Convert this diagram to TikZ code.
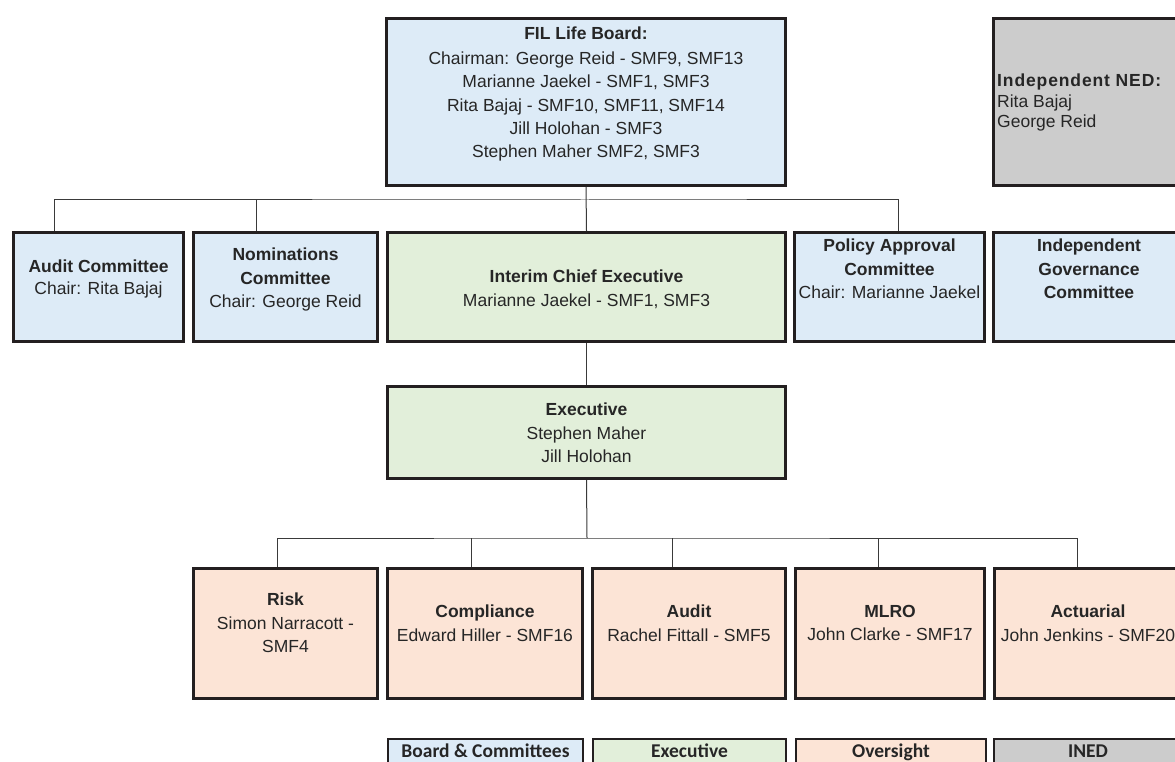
\documentclass[tikz,border=0pt]{standalone}
\usepackage{fontspec}
\setmainfont{Liberation Sans}
\newfontfamily\legendfont{Carlito}
\definecolor{ink}{HTML}{231F20}
\definecolor{txtc}{HTML}{262626}
\definecolor{lineC}{HTML}{3A3A3A}
\definecolor{boardC}{HTML}{DDEBF7}
\definecolor{execC}{HTML}{E2EFDA}
\definecolor{overC}{HTML}{FCE4D6}
\definecolor{inedC}{HTML}{CCCCCC}
\tikzset{
  box/.style={draw=ink, line width=3pt, inner sep=0pt},
  legbox/.style={draw=ink, line width=2pt, inner sep=0pt, minimum height=50},
  txt/.style={inner sep=0pt, align=center, anchor=north, text=txtc,
    font=\fontsize{17.5}{23.3}\selectfont},
  legtxt/.style={inner sep=0pt, anchor=base, text=txtc,
    font=\legendfont\bfseries\fontsize{19.5}{24}\selectfont},
  conn/.style={draw=lineC, line width=1pt},
}
\begin{document}
\begin{tikzpicture}[x=1pt, y=-1pt]
\clip (0,0) rectangle (1175,762);
\fill[white] (0,0) rectangle (1175,762);

% boxes
\node[box, fill=boardC, minimum width=399, minimum height=167] (board) at (586,102) {};
\node[box, fill=inedC, minimum width=195, minimum height=167] (ned) at (1091,102) {};
\node[box, fill=boardC, minimum width=170, minimum height=109] (acbox) at (98.5,287) {};
\node[box, fill=boardC, minimum width=184, minimum height=109] (nombox) at (285.5,287) {};
\node[box, fill=execC, minimum width=398, minimum height=109] (icebox) at (586.5,287) {};
\node[box, fill=boardC, minimum width=190, minimum height=109] (pacbox) at (889.5,287) {};
\node[box, fill=boardC, minimum width=195, minimum height=109] (igcbox) at (1091,287) {};
\node[box, fill=execC, minimum width=398, minimum height=92] (exbox) at (586.5,432.5) {};
\node[box, fill=overC, minimum width=184, minimum height=130] (riskbox) at (285.5,633.5) {};
\node[box, fill=overC, minimum width=195, minimum height=130] (compbox) at (485,633.5) {};
\node[box, fill=overC, minimum width=193, minimum height=130] (auditbox) at (689,633.5) {};
\node[box, fill=overC, minimum width=189, minimum height=130] (mlrobox) at (890,633.5) {};
\node[box, fill=overC, minimum width=187, minimum height=130] (actbox) at (1088,633.5) {};

% texts
\node[txt] (boardtxt) at (586,27) {\textbf{FIL Life Board:}\\[1.5pt]
  Chairman: George Reid - SMF9, SMF13\\ Marianne Jaekel - SMF1, SMF3\\
  Rita Bajaj - SMF10, SMF11, SMF14\\ Jill Holohan - SMF3\\ Stephen Maher SMF2, SMF3};
\node[txt, align=left, anchor=north west, font=\fontsize{17.5}{20.5}\selectfont] (nedtxt) at (997,74)
  {{\bfseries\addfontfeature{LetterSpace=5}Independent NED:}\\ Rita Bajaj\\ George Reid};
\node[txt, font=\fontsize{17.5}{22}\selectfont] (actxt) at (98.5,260) {\textbf{Audit Committee}\\ Chair: Rita Bajaj};
\node[txt] (nomtxt) at (285.5,248) {\textbf{Nominations}\\ \textbf{Committee}\\ Chair: George Reid};
\node[txt] (icetxt) at (586.5,270) {\textbf{Interim Chief Executive}\\ Marianne Jaekel - SMF1, SMF3};
\node[txt] (pactxt) at (889.5,239) {\textbf{Policy Approval}\\ \textbf{Committee}\\ Chair: Marianne Jaekel};
\node[txt] (igctxt) at (1089,239) {\textbf{Independent}\\ \textbf{Governance}\\ \textbf{Committee}};
\node[txt] (extxt) at (586.5,403) {\textbf{Executive}\\ Stephen Maher\\ Jill Holohan};
\node[txt] (risktxt) at (285.5,593) {\textbf{Risk}\\ Simon Narracott -\\ SMF4};
\node[txt] (comptxt) at (485,605) {\textbf{Compliance}\\ Edward Hiller - SMF16};
\node[txt] (audittxt) at (689,605) {\textbf{Audit}\\ Rachel Fittall - SMF5};
\node[txt] (mlrotxt) at (890,605) {\textbf{MLRO}\\ John Clarke - SMF17};
\node[txt] (acttxt) at (1088,605) {\textbf{Actuarial}\\ John Jenkins - SMF20};

% connectors: board level
\coordinate (bus1) at (586,200);
\coordinate (acin) at (54,231);
\coordinate (nomin) at (256,231);
\coordinate (pacin) at (898,231);
\path[conn] (board.south) -- (icebox.north);
\path[conn] (acin) |- (bus1) -| (pacin);
\path[conn] (nomin) -- (nomin |- bus1);
\path[conn] (icebox.south) -- (exbox.north);

% connectors: oversight level
\coordinate (bus2) at (587,538);
\coordinate (riskin) at (277,567);
\coordinate (compin) at (471,567);
\coordinate (auditin) at (672,567);
\coordinate (mlroin) at (878,567);
\coordinate (actin) at (1077,567);
\path[conn] (exbox.south) -- (bus2);
\path[conn] (riskin) |- (bus2) -| (actin);
\path[conn] (compin) -- (compin |- bus2);
\path[conn] (auditin) -- (auditin |- bus2);
\path[conn] (mlroin) -- (mlroin |- bus2);

% legend
\node[legbox, fill=boardC, minimum width=195] (legboard) at (485.5,764) {};
\node[legbox, fill=execC, minimum width=193] (legexec) at (689.5,764) {};
\node[legbox, fill=overC, minimum width=190] (legover) at (891,764) {};
\node[legbox, fill=inedC, minimum width=188] (legined) at (1088,764) {};
\node[legtxt] (legboardtxt) at (485.5,757.5) {Board \& Committees};
\node[legtxt] (legexectxt) at (689.5,757.5) {Executive};
\node[legtxt] (legovertxt) at (891,757.5) {Oversight};
\node[legtxt] (leginedtxt) at (1088,757.5) {INED};
\end{tikzpicture}
\end{document}
